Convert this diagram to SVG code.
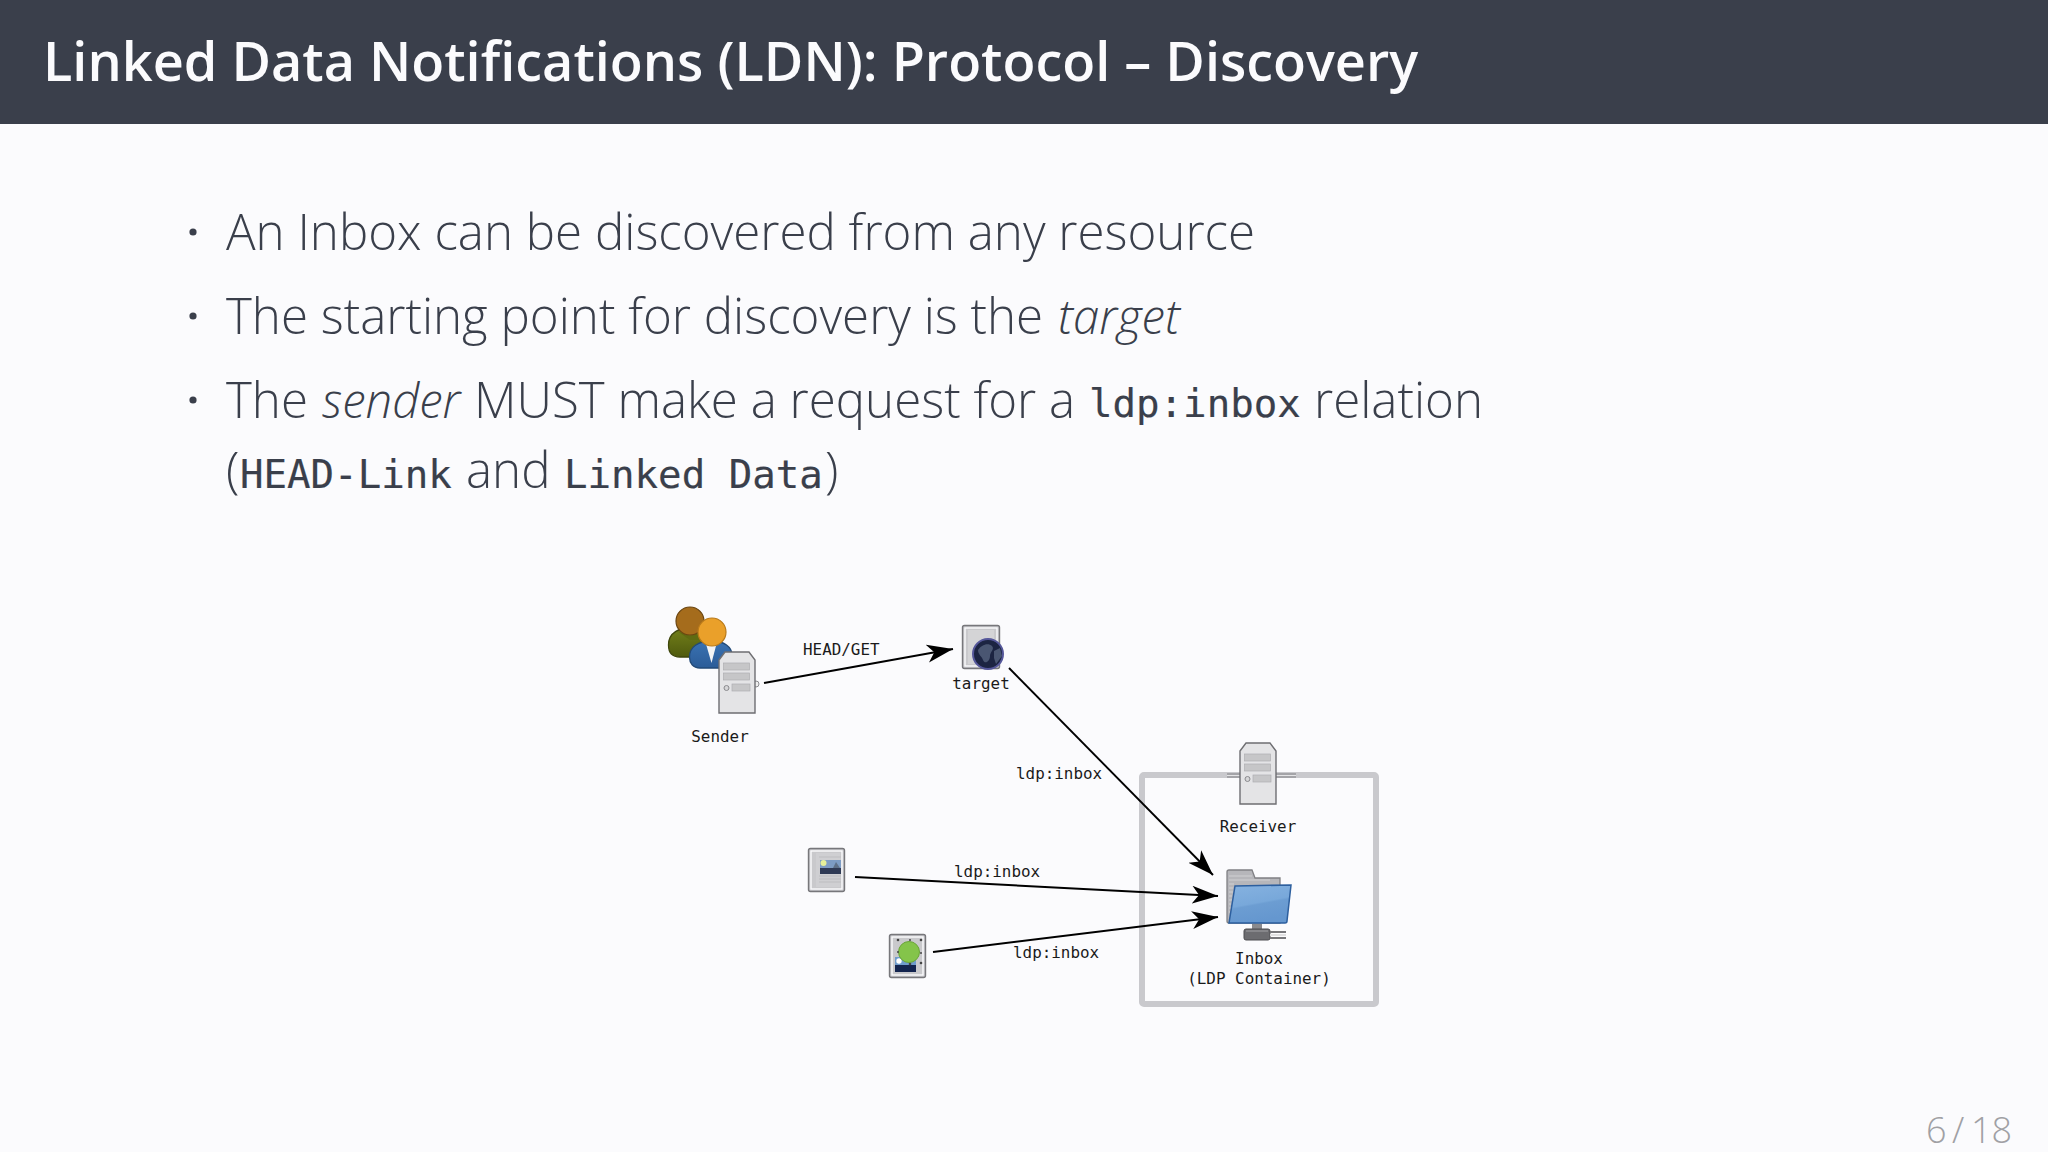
<svg xmlns="http://www.w3.org/2000/svg" width="2048" height="1152" viewBox="0 0 2048 1152">
<style>
.title{font:600 54px "Open Sans",sans-serif;fill:#fbfbfd}
.b{font:300 49.25px "Open Sans",sans-serif;fill:#3a3f4b}
.i{font-style:italic;font-size:47.3px}
.m{font-family:"DejaVu Sans Mono",monospace;font-size:39.1px;font-weight:400;fill:#3a3f4b;stroke:#3a3f4b;stroke-width:.2px}
.l{font:15.9px "DejaVu Sans Mono",monospace;fill:#1a1a1a}
.c{text-anchor:middle}
.edge{fill:none;stroke:#000;stroke-width:1.9;marker-end:url(#ah)}
.srv{fill:#e4e4e6;stroke:#6e6e72;stroke-width:1.4}
.bar{fill:#c6c6c8;stroke:#aeaeb2;stroke-width:.7}
.doc{fill:#c4c4c8;stroke:#77777b;stroke-width:1.4}
.inner{fill:#c9c9cc;stroke:#fbfbfd;stroke-width:1.4}
</style>
<defs>
<marker id="ah" markerUnits="userSpaceOnUse" markerWidth="28" markerHeight="20" refX="26" refY="9" orient="auto" viewBox="0 0 28 18">
<path d="M0 0L26 9L0 18L7 9Z" fill="#000"/>
</marker>
<linearGradient id="fold" x1="0" y1="0" x2="0.3" y2="1"><stop offset="0" stop-color="#86b2e0"/><stop offset=".55" stop-color="#78a8da"/><stop offset=".6" stop-color="#6c9dd2"/><stop offset="1" stop-color="#6597cf"/></linearGradient>
<linearGradient id="olive" x1="0" y1="0" x2="0" y2="1"><stop offset="0" stop-color="#73801a"/><stop offset="1" stop-color="#4f5a0e"/></linearGradient>
<linearGradient id="blue" x1="0" y1="0" x2="0" y2="1"><stop offset="0" stop-color="#3a72b2"/><stop offset="1" stop-color="#2b5c98"/></linearGradient>
<g id="server">
<path class="srv" d="M0 8L6 0H30L36 8V61H0Z"/>
<rect class="bar" x="4.500" y="11" width="26" height="7"/>
<rect class="bar" x="4.500" y="21" width="26" height="7"/>
<circle cx="7.500" cy="36" r="2.500" fill="#d6d6d8" stroke="#8a8a8e"/>
<rect class="bar" x="13" y="32" width="18" height="7"/>
</g>
</defs>
<rect width="2048" height="1152" fill="#fbfbfd"/>
<rect width="2048" height="124" fill="#3a3f4b"/>
<text class="title" x="43" y="81">Linked Data Notifications (LDN): Protocol – Discovery</text>

<g id="bullets">
<circle cx="193" cy="232" r="3.600" fill="#3a3f4b"/>
<circle cx="193" cy="316" r="3.600" fill="#3a3f4b"/>
<circle cx="193" cy="400" r="3.600" fill="#3a3f4b"/>
<text class="b" x="226" y="250">An Inbox can be discovered from any resource</text>
<text class="b" x="226" y="334">The starting point for discovery is the <tspan class="i" x="1058">target</tspan></text>
<text class="b" x="226" y="418">The <tspan class="i" x="322">sender</tspan> <tspan x="474">MUST make a request for a</tspan> <tspan class="m" x="1089" y="417">ldp:inbox</tspan> <tspan x="1314" y="418">relation</tspan></text>
<text class="b" x="226" y="488">(<tspan class="m" x="240" y="488">HEAD-Link</tspan> <tspan x="466" y="488">and</tspan> <tspan class="m" x="564" y="488">Linked Data</tspan><tspan x="825" y="488">)</tspan></text>
</g>

<g id="receiver-box">
<rect x="1142" y="775" width="234" height="229" rx="2" fill="none" stroke="#c9c9cd" stroke-width="6"/>
</g>

<g id="connectors">
<path class="edge" d="M764 683L953 649"/>
<path class="edge" d="M1009 668L1213 875"/>
<path class="edge" d="M855 877L1218 896"/>
<path class="edge" d="M933 952L1218 917"/>
</g>

<g id="sender">
<path d="M668.500 645C668.500 632 680 628 690 628C702 628 712 634 712 646V657H680C672 657 668.500 652 668.500 645Z" fill="url(#olive)" stroke="#3f470c" stroke-width="1.300"/>
<path d="M677 631L690 636L703 631L703 640L690 640Z" fill="#5f6b12"/>
<circle cx="690" cy="621" r="14" fill="#a56c1c" stroke="#6a4512" stroke-width="1.200"/>
<path d="M689.500 657C689.500 647 698 641 712 641C724 641 732 647 732 655V668H700C693 668 689.500 663 689.500 657Z" fill="url(#blue)" stroke="#224a78" stroke-width="1.300"/>
<path d="M706 644L711.500 663L716.500 644Z" fill="#f4f4f4"/>
<circle cx="712" cy="632" r="14" fill="#eaa02a" stroke="#b97a1a" stroke-width="1.200"/>
<circle cx="756" cy="684" r="3" fill="#eee" stroke="#8a8a8e"/>
<use href="#server" x="719" y="652"/>
<text class="l c" x="720" y="742">Sender</text>
</g>

<g id="target">
<rect class="doc" x="962.500" y="625.500" width="37" height="43" rx="2"/>
<rect class="inner" x="965" y="628" width="32" height="38"/>
<rect x="968" y="630" width="26" height="34" fill="#d4d4d6"/>
<circle cx="988" cy="654" r="15" fill="#1c2442" stroke="#55579a" stroke-width="2"/>
<path d="M978 650C981 645 988 642 992 646C995 649 990 652 990 656C990 661 985 665 983 660C982 656 978 655 978 650Z" fill="#4a5672"/>
<path d="M994 651L1000 648L1002 656L996 664L994 658Z" fill="#4a5672"/>
<text class="l c" x="981" y="689">target</text>
</g>

<g id="resource-image">
<rect class="doc" x="808.500" y="848.500" width="36" height="43" rx="2"/>
<rect class="inner" x="811" y="851" width="31" height="38"/>
<rect x="816" y="853" width="24" height="34" fill="#cfcfd2"/>
<path d="M819 876H841M819 879H841M819 882H841M819 857H841" stroke="#bdbdc0" stroke-width="1"/>
<rect x="820" y="860" width="21" height="14" fill="#7d9cc4"/>
<rect x="820" y="868" width="21" height="6" fill="#2f3a55"/>
<path d="M833 868L836 862L840 868Z" fill="#5e7088"/>
<circle cx="823.500" cy="863" r="3" fill="#e6f09a"/>
</g>

<g id="resource-data">
<rect class="doc" x="889.500" y="934.500" width="36" height="43" rx="2"/>
<rect class="inner" x="892" y="937" width="31" height="38"/>
<rect x="895" y="957" width="21" height="15" fill="#6f9ccc"/>
<rect x="895" y="965" width="21" height="7" fill="#13244f"/>
<circle cx="899" cy="961" r="2.700" fill="#fff"/>
<circle cx="909" cy="952" r="10.500" fill="#84c44a" stroke="#6aa538"/>
<g fill="#444"><circle cx="898" cy="940" r="1.300"/><circle cx="910" cy="940" r="1"/><circle cx="921" cy="940" r="1.300"/><circle cx="921" cy="953" r="1"/><circle cx="921" cy="963" r="1.300"/><circle cx="898" cy="952" r="1"/><circle cx="910" cy="964" r="1.300"/></g>
</g>

<g id="receiver">
<rect x="1227" y="773" width="13" height="5" fill="#a4a4a8"/>
<rect x="1276" y="773" width="20" height="5" fill="#a4a4a8"/>
<path d="M1227 775.500H1240M1276 775.500H1296" stroke="#e4e4e6" stroke-width="1.200"/>
<use href="#server" x="1240" y="743"/>
<text class="l c" x="1258" y="832">Receiver</text>
</g>

<g id="inbox">
<path d="M1227 872Q1227 870 1229 870H1252L1255 878H1280V923H1229Q1227 923 1227 921Z" fill="#b6b6ba" stroke="#808084" stroke-width="1.300"/>
<path d="M1229 876H1252M1229 880H1270M1229 884H1234M1229 888H1233M1229 892H1233M1229 896H1232M1229 900H1232M1229 904H1231M1229 908H1231M1229 912H1230" stroke="#d0d0d2" stroke-width="1"/>
<path d="M1235 886L1291 885L1287 921Q1287 923 1285 923L1229 923Z" fill="url(#fold)" stroke="#2d5f9e" stroke-width="1.500"/>
<path d="M1252 924H1262V930H1252Z" fill="#8a8a8e"/>
<rect x="1244" y="929" width="26" height="11" rx="2" fill="#6c6c70" stroke="#4c4c50"/>
<path d="M1246 931H1268" stroke="#a0a0a4"/>
<path d="M1270 932H1286M1270 938H1286" stroke="#77777b" stroke-width="2"/>
<path d="M1270 935H1286" stroke="#e0e0e2" stroke-width="2"/>
<text class="l c" x="1259" y="964">Inbox</text>
<text class="l c" x="1259" y="984">(LDP Container)</text>
</g>

<g id="edge-labels">
<text class="l" x="803" y="655">HEAD/GET</text>
<text class="l" x="1016" y="779">ldp:inbox</text>
<text class="l" x="954" y="877">ldp:inbox</text>
<text class="l" x="1013" y="958">ldp:inbox</text>
</g>

<text id="page" y="1143" style="font:300 36px 'Open Sans',sans-serif;fill:#a0a0a4"><tspan x="1926">6</tspan><tspan x="1952">/</tspan><tspan x="1971">18</tspan></text>
</svg>
